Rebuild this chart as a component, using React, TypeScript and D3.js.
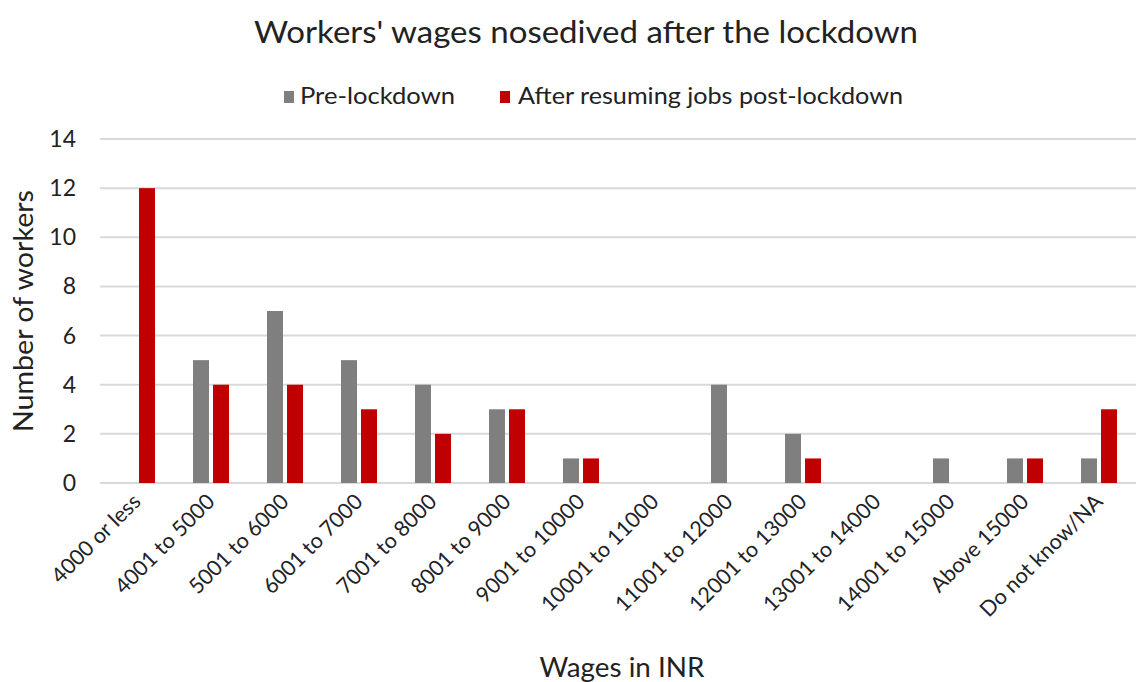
import React from "react";
import * as d3 from "d3";

const categories = [
  "4000 or less", "4001 to 5000", "5001 to 6000", "6001 to 7000", "7001 to 8000",
  "8001 to 9000", "9001 to 10000", "10001 to 11000", "11001 to 12000", "12001 to 13000",
  "13001 to 14000", "14001 to 15000", "Above 15000", "Do not know/NA",
];
const preLockdown = [0, 5, 7, 5, 4, 3, 1, 0, 4, 2, 0, 1, 1, 1];
const postLockdown = [12, 4, 4, 3, 2, 3, 1, 0, 0, 1, 0, 0, 1, 3];
const yTicks = [0, 2, 4, 6, 8, 10, 12, 14];
const seriesNames = ["Pre-lockdown", "After resuming jobs post-lockdown"];
const seriesColors = ["#7f7f7f", "#c00000"];

const W = 1137, H = 682;
const FONT = "Lato, 'Open Sans', sans-serif";

export default function App() {
  const x = d3.scaleBand<string>().domain(categories).range([100, 1136]).paddingInner(0).paddingOuter(0);
  const y = d3.scaleLinear().domain([0, 14]).range([483, 139]);
  const sub = d3.scaleBand<number>().domain([0, 1]).range([-18, 18]).paddingInner(0.2);
  const series = [preLockdown, postLockdown];

  return (
    <svg width={W} height={H} style={{ position: "absolute", left: 0, top: 0, background: "#fff" }} fontFamily={FONT}>
      <text x={586} y={43} textAnchor="middle" fontSize={30} fill="#222" textLength={664} lengthAdjust="spacingAndGlyphs">Workers' wages nosedived after the lockdown</text>
      {/* legend */}
      <g>
        <rect x={284} y={91} width={10} height={12} fill={seriesColors[0]} />
        <text x={300} y={104} fontSize={23} fill="#222" textLength={155} lengthAdjust="spacingAndGlyphs">{seriesNames[0]}</text>
        <rect x={500} y={91} width={10} height={12} fill={seriesColors[1]} />
        <text x={518} y={104} fontSize={23} fill="#222" textLength={385} lengthAdjust="spacingAndGlyphs">{seriesNames[1]}</text>
      </g>
      {/* gridlines */}
      {yTicks.map((t) => (
        <line key={t} x1={100} x2={1136} y1={y(t)} y2={y(t)} stroke="#d9d9d9" strokeWidth={2} />
      ))}
      {yTicks.map((t) => (
        <text key={"l" + t} x={76} y={y(t) + 8} textAnchor="end" fontSize={23} fill="#222">{t}</text>
      ))}
      {/* bars */}
      {categories.map((c, i) => (
        <g key={c} transform={`translate(${x(c)! + x.bandwidth() / 2},0)`}>
          {series.map((s, j) =>
            s[i] > 0 ? (
              <rect key={j} x={sub(j)!} width={sub.bandwidth()} y={y(s[i])} height={y(0) - y(s[i])} fill={seriesColors[j]} />
            ) : null
          )}
        </g>
      ))}
      {/* x labels */}
      {categories.map((c) => {
        const cx = x(c)! + x.bandwidth() / 2 + 5;
        return (
          <text key={"x" + c} transform={`translate(${cx},503) rotate(-45)`} textAnchor="end" fontSize={21.5} fill="#222">{c}</text>
        );
      })}
      <text transform={`translate(33,311) rotate(-90)`} textAnchor="middle" fontSize={27} fill="#222" textLength={242} lengthAdjust="spacingAndGlyphs">Number of workers</text>
      <text x={622} y={677} textAnchor="middle" fontSize={27} fill="#222" textLength={165} lengthAdjust="spacingAndGlyphs">Wages in INR</text>
    </svg>
  );
}
